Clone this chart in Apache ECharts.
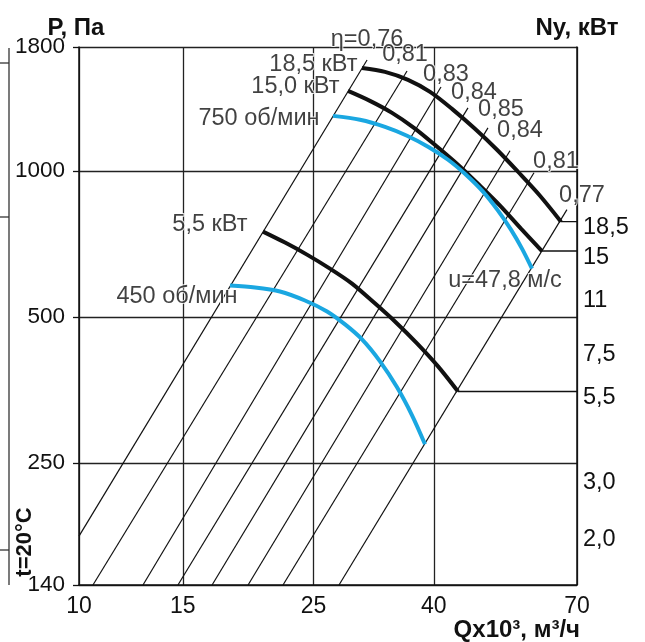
<!DOCTYPE html>
<html>
<head>
<meta charset="utf-8">
<script src="https://cdn.jsdelivr.net/npm/echarts@6/dist/echarts.min.js"></script>
<style>
  html, body { margin: 0; padding: 0; background: #fff; }
  #chart { width: 645px; height: 642px; }
</style>
</head>
<body>
<div id="chart"></div>
<script>
// Axis ticks (log scales)
const qTicks = [10, 15, 25, 40, 70];                 // Q x10³, м³/ч
const pTicks = [140, 250, 500, 1000, 1800];          // P, Па
const nyTicks = [2, 3, 5.5, 7.5, 11, 15, 18.5];      // Ny, кВт
const nyTickLabels = ['2,0', '3,0', '5,5', '7,5', '11', '15', '18,5'];

// Efficiency rays P ~ Q²: lower end, upper end [Q, P]
const etaLabels = ['η=0,76', '0,81', '0,83', '0,84', '0,85', '0,84', '0,81', '0,77'];
const etaRays = [
  [[10.00, 176.6], [30.82, 1692]],
  [[10.56, 140], [36.03, 1606]],
  [[12.84, 140], [41.14, 1489]],
  [[14.72, 140], [45.72, 1348]],
  [[16.82, 140], [49.43, 1226]],
  [[19.36, 140], [53.87, 1100]],
  [[22.19, 140], [59.17, 991]],
  [[27.62, 140], [67.30, 832]]
];

// Pressure curves [Q, P]
const speed750 = [[26.98, 1298], [29.98, 1274], [33.06, 1232], [36.03, 1181], [39.11, 1121],
                  [42.29, 1054], [45.37, 981.5], [48.48, 905.7], [51.41, 827.8], [54.08, 756.4],
                  [56.46, 691.2], [58.71, 628.6]];
const speed450 = [[18.04, 580.0], [19.89, 574.8], [21.93, 564.0], [24.18, 540.4], [26.36, 512.9],
                  [28.28, 482.3], [30.22, 449.2], [32.42, 404.8], [34.65, 357.8], [36.74, 313.3],
                  [38.65, 273.1]];
const speedNames = ['750 об/мин', '450 об/мин'];
const tipSpeedLabel = 'u=47,8 м/с';

// Power curves [Q, Ny]
const power185 = [[30.22, 55.45], [33.06, 53.91], [36.17, 50.92], [39.42, 46.74], [42.95, 41.41],
                  [46.98, 35.91], [51.21, 30.91], [55.58, 26.42], [60.57, 22.27], [65.76, 18.5]];
const power150 = [[28.61, 47.07], [31.17, 43.84], [33.98, 40.24], [37.02, 36.16], [40.35, 31.80],
                  [43.97, 27.78], [47.91, 23.91], [51.82, 20.74], [56.24, 17.60], [61.05, 15]];
const power55 = [[20.52, 17.23], [22.37, 15.93], [24.37, 14.62], [26.66, 13.23], [29.06, 11.89],
                 [31.67, 10.38], [34.51, 9.005], [37.46, 7.755], [40.67, 6.580], [43.97, 5.5]];
const motorNames = ['18,5 кВт', '15,0 кВт', '5,5 кВт'];

const FONT = '"Liberation Sans", Arial, Helvetica, sans-serif';
const INK = '#111';
const BLUE = '#1aa7e1';

const chart = echarts.init(document.getElementById('chart'), null, { renderer: 'canvas' });

const gridLine = { color: '#222', width: 1.3 };
const labelText = { fontFamily: FONT, fontSize: 23.5, color: INK };
const halo = { textBorderColor: '#fff', textBorderWidth: 2 };
const titleText = { fontFamily: FONT, fontSize: 24, fontWeight: 'bold', color: INK };

function nyLabel(v) {
  let best = 0;
  nyTicks.forEach((t, i) => { if (Math.abs(t - v) < Math.abs(nyTicks[best] - v)) best = i; });
  return nyTickLabels[best];
}

const series = [];

// efficiency rays
etaRays.forEach((ray) => {
  series.push({
    type: 'line', data: ray, symbol: 'none', silent: true, z: 2,
    lineStyle: { color: INK, width: 1.2 }
  });
});

// motor power curves on the Ny scale, with leaders to the right scale
[power185, power150, power55].forEach((curve) => {
  series.push({
    type: 'line', yAxisIndex: 1, data: curve, symbol: 'none', smooth: 0.3, silent: true, z: 5,
    lineStyle: { color: INK, width: 4 }
  });
  const end = curve[curve.length - 1];
  series.push({
    type: 'line', yAxisIndex: 1, data: [end, [qTicks[qTicks.length - 1], end[1]]],
    symbol: 'none', silent: true, z: 3,
    lineStyle: { color: INK, width: 1.3 }
  });
});

// pressure curves
[speed750, speed450].forEach((curve) => {
  series.push({
    type: 'line', data: curve, symbol: 'none', smooth: 0.3, silent: true, z: 6,
    lineStyle: { color: BLUE, width: 4 }
  });
});

// efficiency labels at the upper ends of the rays
const etaOffsets = [[0, -21], [-2, -17], [5, -12], [6, -15], [13, -18], [10, -20], [22, -11], [15, -14]];
series.push({
  type: 'scatter', symbolSize: 1, silent: true, z: 10,
  itemStyle: { color: 'transparent' },
  data: etaRays.map((r, i) => ({ value: r[1], name: etaLabels[i], label: { offset: etaOffsets[i] } })),
  label: Object.assign({ show: true, position: 'inside', formatter: '{b}' }, labelText, halo)
});

// motor labels at the start of the power curves
const motorStyles = [
  { distance: 4, offset: [0, -3] },
  { distance: 8, offset: [0, -4] },
  { distance: 15, offset: [0, -7] }
];
series.push({
  type: 'scatter', yAxisIndex: 1, symbolSize: 1, silent: true, z: 10,
  itemStyle: { color: 'transparent' },
  data: [power185, power150, power55].map((c, i) => ({
    value: c[0], name: motorNames[i], label: motorStyles[i]
  })),
  label: Object.assign({ show: true, position: 'left', formatter: '{b}' }, labelText, halo)
});

// speed labels
const speedStyles = [
  { position: 'left', distance: 13, offset: [0, 3] },
  { position: 'left', distance: -8, offset: [0, 11] }
];
series.push({
  type: 'scatter', symbolSize: 1, silent: true, z: 10,
  itemStyle: { color: 'transparent' },
  data: [
    { value: speed750[0], name: speedNames[0], label: speedStyles[0] },
    { value: speed450[0], name: speedNames[1], label: speedStyles[1] },
    { value: speed750[speed750.length - 1], name: tipSpeedLabel,
      label: { position: 'inside', offset: [-27, 12] } }
  ],
  label: Object.assign({ show: true, formatter: '{b}' }, labelText, halo)
});

const option = {
  animation: false,
  backgroundColor: '#fff',
  grid: { left: 79, right: 68, top: 47, bottom: 56, containLabel: false },
  xAxis: {
    type: 'log', logBase: 10, min: 10, max: 70,
    axisLine: { show: true, onZero: false, lineStyle: { color: INK, width: 1.5 } },
    axisTick: { show: false, customValues: qTicks },
    splitLine: { show: true, lineStyle: gridLine },
    axisLabel: Object.assign({ customValues: qTicks, margin: 10, formatter: (v) => String(Math.round(v)) },
                             labelText, { fontSize: 23 }),
    name: 'Qx10³, м³/ч', nameLocation: 'end', nameGap: 3, nameMoveOverlap: false,
    nameTextStyle: Object.assign({ align: 'right', verticalAlign: 'top', padding: [33, 0, 0, 0] }, titleText)
  },
  yAxis: [
    {
      type: 'log', logBase: 10, min: 140, max: 1800, position: 'left',
      axisLine: { show: true, onZero: false, lineStyle: { color: INK, width: 1.5 } },
      axisTick: { show: true, inside: false, length: 6, customValues: pTicks, lineStyle: { color: INK, width: 1.3 } },
      splitLine: { show: true, lineStyle: gridLine },
      axisLabel: Object.assign({ customValues: pTicks, margin: 14, formatter: (v) => String(Math.round(v)) },
                               labelText, { fontSize: 22.5 }),
      name: 'P, Па', nameLocation: 'end', nameGap: 7, nameMoveOverlap: false,
      nameTextStyle: Object.assign({ align: 'center', padding: [0, 6, 0, 0] }, titleText)
    },
    {
      type: 'log', logBase: 10, min: 1.381, max: 64.4, position: 'right',
      axisLine: { show: true, onZero: false, lineStyle: { color: INK, width: 1.5 } },
      axisTick: { show: false, customValues: nyTicks },
      splitLine: { show: false },
      axisLabel: Object.assign({ customValues: nyTicks, margin: 6, formatter: nyLabel,
                                 verticalAlign: 'top', lineHeight: 12 }, labelText),
      name: 'Ny, кВт', nameLocation: 'end', nameGap: 7, nameMoveOverlap: false,
      nameTextStyle: Object.assign({ align: 'center' }, titleText)
    }
  ],
  graphic: [
    // edge of the neighbouring scale
    { type: 'line', silent: true, shape: { x1: 9, y1: 48, x2: 9, y2: 585 }, style: { stroke: '#333', lineWidth: 1.3 } },
    { type: 'line', silent: true, shape: { x1: 0, y1: 63, x2: 9, y2: 63 }, style: { stroke: '#333', lineWidth: 1.3 } },
    { type: 'line', silent: true, shape: { x1: 0, y1: 217, x2: 9, y2: 217 }, style: { stroke: '#333', lineWidth: 1.3 } },
    { type: 'line', silent: true, shape: { x1: 0, y1: 550, x2: 9, y2: 550 }, style: { stroke: '#333', lineWidth: 1.3 } },
    {
      type: 'text', silent: true, x: 25, y: 542, rotation: Math.PI / 2,
      style: { text: 't=20°C', font: 'bold 22px ' + FONT, fill: INK, textAlign: 'center', textVerticalAlign: 'middle' }
    }
  ],
  series: series
};

chart.setOption(option);
</script>
</body>
</html>
